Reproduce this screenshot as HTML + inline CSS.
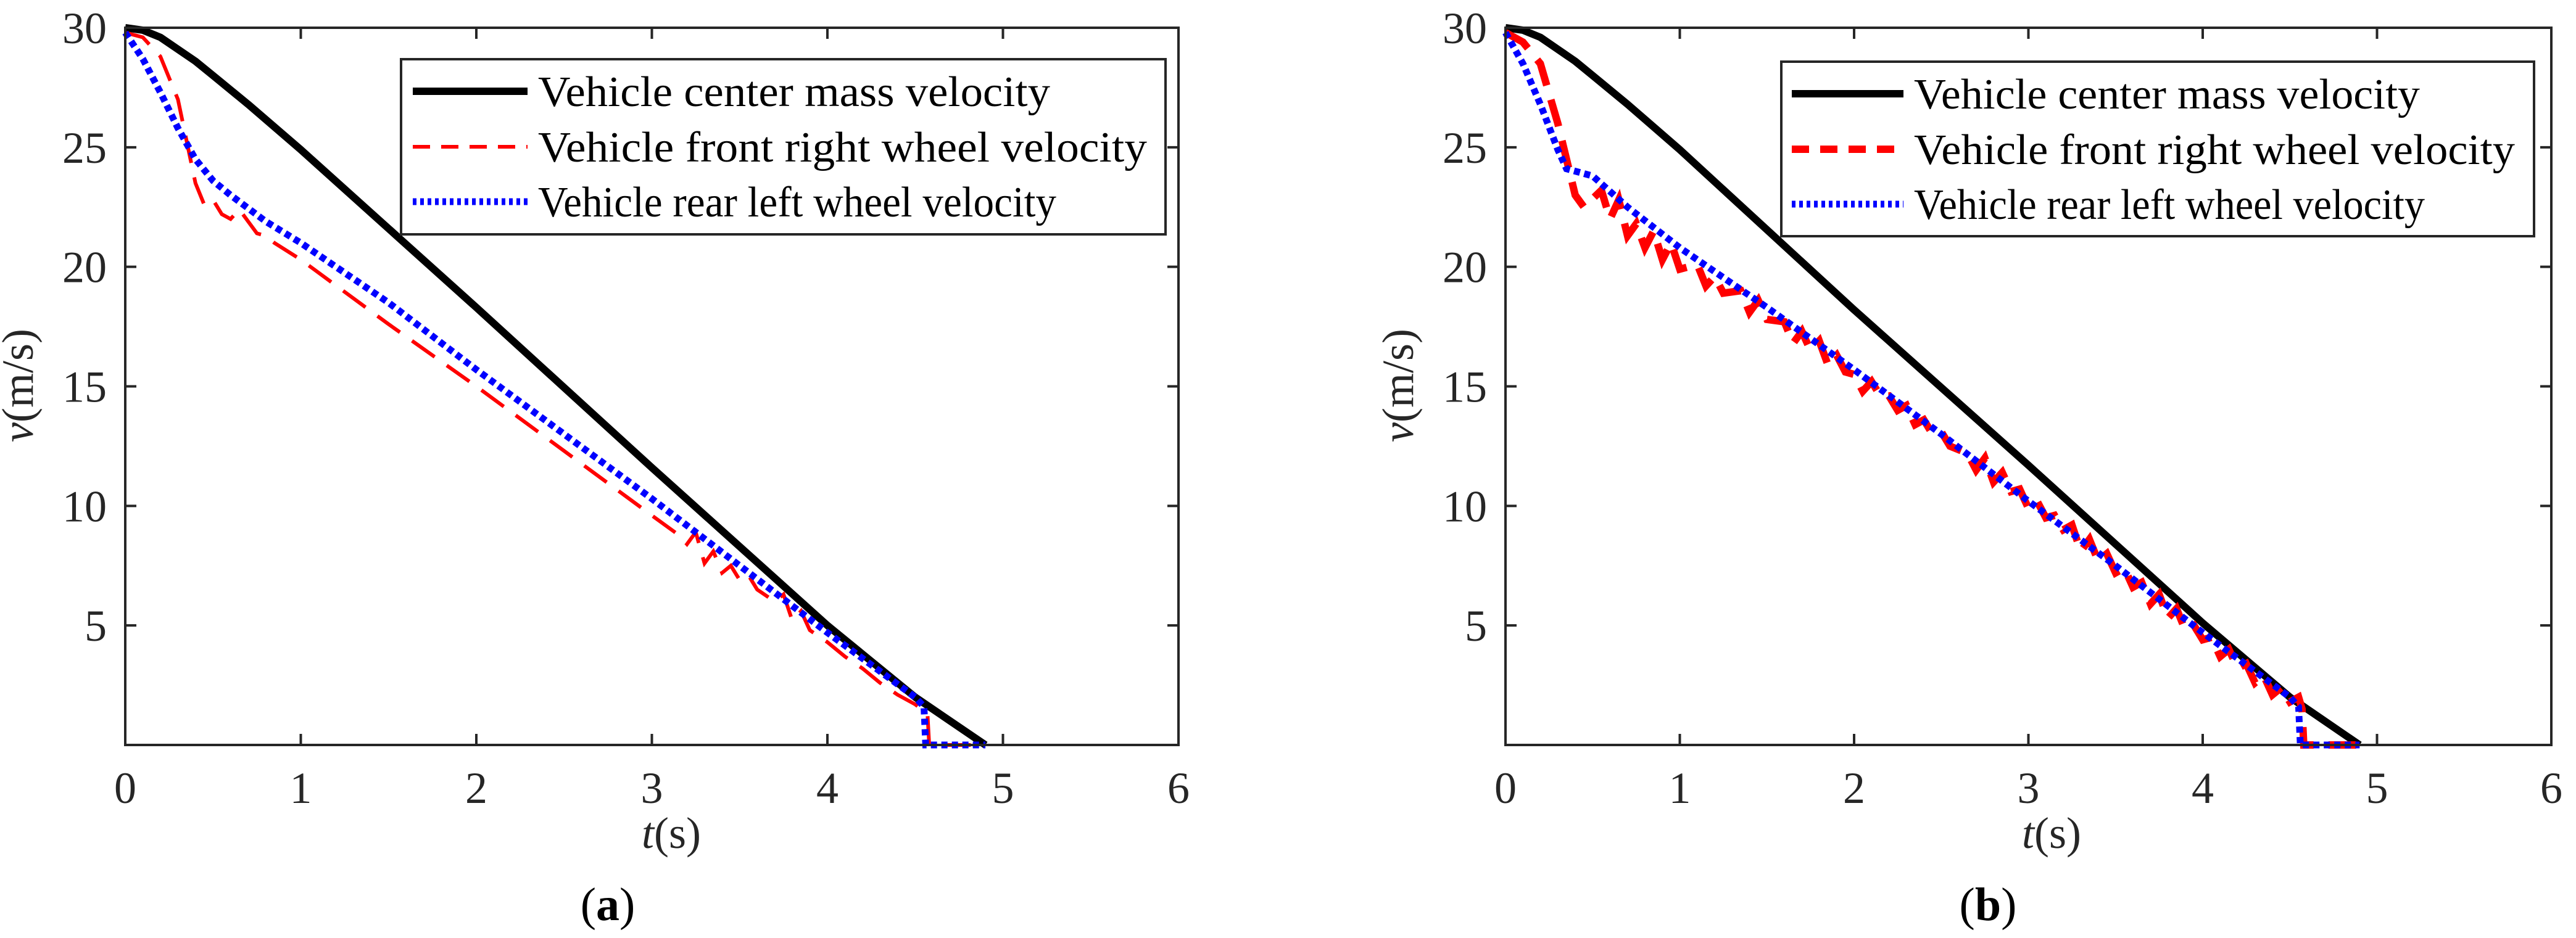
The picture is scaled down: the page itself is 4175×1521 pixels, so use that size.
<!DOCTYPE html>
<html><head><meta charset="utf-8"><style>
html,body{margin:0;padding:0;background:#fff;}
svg{display:block;}
svg text{font-family:"Liberation Serif","Times New Roman",Times,"DejaVu Serif",serif;}
</style></head><body>
<svg id="fig" width="4175" height="1521" viewBox="0 0 4175 1521" xmlns="http://www.w3.org/2000/svg"></svg>
<script>
// ---- data ----
const xTicks=[0,1,2,3,4,5,6];
const yTicks=[5,10,15,20,25,30];
const legendLabels=["Vehicle center mass velocity","Vehicle front right wheel velocity","Vehicle rear left wheel velocity"];
// panel a
const aCenterT=[0,0.1,0.2,0.3,0.4,0.5,0.7,1,2,3,4,4.5,4.9];
const aCenterV=[30,29.9,29.6,29.1,28.6,28.0,26.8,24.9,18.3,11.6,5.0,2.0,0];
const aFrontT=[0,0.1,0.2,0.3,0.4,0.45,0.5,0.55,0.6,0.65,0.7,0.75,0.8,0.85,1,1.5,2,2.5,3,3.15,3.2,3.25,3.3,3.35,3.4,3.45,3.5,3.55,3.6,3.7,3.75,3.8,3.85,3.9,4.0,4.1,4.2,4.3,4.4,4.5,4.57,4.58,4.9];
const aFrontV=[29.8,29.6,28.8,27.0,23.5,22.6,22.8,22.2,22.0,22.4,21.9,21.4,21.3,21.0,20.3,17.6,15.0,12.3,9.6,8.8,8.4,8.9,7.6,8.1,7.2,7.5,6.9,7.1,6.5,6.0,6.3,5.2,5.6,4.8,4.3,3.7,3.2,2.6,2.1,1.7,1.3,0,0];
const aRearT=[0,0.1,0.2,0.3,0.4,0.5,0.6,0.8,1,1.5,2,2.5,3,3.5,4,4.5,4.55,4.56,4.9];
const aRearV=[29.8,28.7,27.3,25.8,24.5,23.6,23.0,21.9,21.0,18.5,15.7,13.0,10.3,7.5,4.7,2.0,1.6,0,0];
// panel b
const bCenterT=[0,0.1,0.2,0.3,0.4,0.5,0.7,1,2,3,4,4.5,4.9];
const bCenterV=[30,29.9,29.6,29.1,28.6,28.0,26.8,24.9,18.2,11.7,5.1,2.0,0];
const bFrontT=[0,0.1,0.2,0.3,0.4,0.45,0.55,0.6,0.65,0.7,0.75,0.8,0.85,0.9,0.95,1.0,1.1,1.15,1.2,1.25,1.35,1.4,1.45,1.5,1.6,1.65,1.7,1.75,1.8,1.85,1.9,1.95,2.0,2.05,2.1,2.15,2.2,2.25,2.3,2.35,2.4,2.45,2.5,2.55,2.65,2.7,2.75,2.8,2.85,2.9,2.95,3.0,3.05,3.1,3.15,3.2,3.25,3.3,3.35,3.4,3.45,3.5,3.55,3.6,3.65,3.7,3.75,3.8,3.85,3.9,3.95,4.0,4.05,4.1,4.15,4.2,4.25,4.3,4.35,4.4,4.45,4.5,4.55,4.57,4.58,4.9];
const bFrontV=[29.8,29.4,28.5,26.0,23.0,22.5,23.2,22.0,22.8,21.3,21.8,20.8,21.5,20.3,21.0,19.9,20.1,19.2,19.6,18.9,19.0,18.1,18.6,17.8,17.7,16.8,17.3,16.5,16.9,15.9,16.3,15.6,15.5,14.8,15.2,14.6,14.6,14.0,14.2,13.4,13.6,13.0,13.1,12.5,12.2,11.5,12.0,11.0,11.4,10.6,10.7,9.9,10.2,9.5,9.6,9.0,9.2,8.1,8.6,7.7,8.0,7.2,7.4,6.6,6.8,5.9,6.3,5.3,5.7,4.8,5.0,4.4,4.5,3.7,4.0,3.2,3.4,2.6,2.9,2.1,2.4,1.8,2.0,1.5,0,0];
const bRearT=[0,0.1,0.2,0.3,0.35,0.5,0.7,1,1.5,2,2.5,3,3.5,4,4.5,4.55,4.56,4.9];
const bRearV=[29.8,28.5,26.8,24.9,24.1,23.8,22.5,20.8,18.3,15.7,13.0,10.2,7.5,4.7,2.0,1.6,0,0];

const NS="http://www.w3.org/2000/svg";
const svg=document.getElementById('fig');
const FF="'Liberation Serif','Times New Roman',Times,'DejaVu Serif',serif";
function mk(tag,attrs,parent){const e=document.createElementNS(NS,tag);for(const k in attrs)e.setAttribute(k,attrs[k]);if(tag==='text'){e.setAttribute('font-family',FF);e.style.fontFamily=FF;}(parent||svg).appendChild(e);return e;}

const panels=[
 {id:'a',x0:203,x1:1910,y0:45,y1:1208,center:[aCenterT,aCenterV],front:[aFrontT,aFrontV],rear:[aRearT,aRearV],frontW:6,
  leg:{l:650,r:1889,t:96,b:380,sx0:669,sx1:855,tx:872,tw:[830,987,840]},tsx:1088,cap:985},
 {id:'b',x0:2440,x1:4135,y0:45,y1:1208,center:[bCenterT,bCenterV],front:[bFrontT,bFrontV],rear:[bRearT,bRearV],frontW:12,
  leg:{l:2887,r:4107,t:100,b:383,sx0:2904,sx1:3085,tx:3102,tw:[820,974,828]},tsx:3325,cap:3222}
];
const C='#262626';
panels.forEach(p=>{
  const g=mk('g',{});
  
  
  const xs=t=>p.x0+(t-0)/(6-0)*(p.x1-p.x0);
  const ys=v=>p.y1-(v-0)/(30-0)*(p.y1-p.y0);
  const path=(T,V)=>T.map((t,i)=>(i?'L':'M')+xs(t).toFixed(1)+' '+ys(V[i]).toFixed(1)).join(' ');
  const sc=mk('path',{d:path(p.center[0],p.center[1]),fill:'none',stroke:'#000','stroke-width':12,'stroke-linejoin':'round'},g);
  
  
  const sf=mk('path',{d:path(p.front[0],p.front[1]),fill:'none',stroke:'#ff0000','stroke-width':p.frontW,'stroke-dasharray':'45 24'},g);
  
  
  const sr=mk('path',{d:path(p.rear[0],p.rear[1]),fill:'none',stroke:'#0000ff','stroke-width':11,'stroke-dasharray':'10 7'},g);
  
  
  const box=mk('rect',{x:p.x0,y:p.y0,width:p.x1-p.x0,height:p.y1-p.y0,fill:'none',stroke:C,'stroke-width':4},g);
  
  
  xTicks.forEach(t=>{
    const x=xs(t);
    mk('line',{x1:x,y1:p.y1,x2:x,y2:p.y1-18,stroke:C,'stroke-width':4},g);
    mk('line',{x1:x,y1:p.y0,x2:x,y2:p.y0+18,stroke:C,'stroke-width':4},g);
    const tl=mk('text',{x:x,y:1302,'text-anchor':'middle','font-size':72,fill:C},g);
    tl.textContent=t;
    
    
  });
  yTicks.forEach(v=>{
    const y=ys(v);
    mk('line',{x1:p.x0,y1:y,x2:p.x0+18,y2:y,stroke:C,'stroke-width':4},g);
    mk('line',{x1:p.x1,y1:y,x2:p.x1-18,y2:y,stroke:C,'stroke-width':4},g);
    const tl=mk('text',{x:p.x0-30,y:y+25,'text-anchor':'end','font-size':72,fill:C},g);
    tl.textContent=v;
    
    
  });
  const xt=mk('text',{x:p.tsx,y:1375,'text-anchor':'middle','font-size':72,fill:C},g);
  xt.innerHTML='<tspan font-style="italic">t</tspan>(s)';
  
  
  const yx=p.x0-150, yy=625;
  const yt=mk('text',{x:yx,y:yy,'text-anchor':'middle','font-size':72,fill:C,transform:`rotate(-90 ${yx} ${yy})`},g);
  yt.innerHTML='<tspan font-style="italic">v</tspan>(m/s)';
  
  
  const cp=mk('text',{x:p.cap,y:1492,'text-anchor':'middle','font-size':76,fill:'#000'},g);
  cp.innerHTML='(<tspan font-weight="bold">'+p.id+'</tspan>)';
  
  
  const L=p.leg;
  const lg=mk('g',{},g);
  
  
  mk('rect',{x:L.l,y:L.t,width:L.r-L.l,height:L.b-L.t,fill:'#fff',stroke:C,'stroke-width':4},lg);
  const rowsY=[L.t+52,L.t+142,L.t+231];
  const styles=[{s:'#000',w:12,d:'none'},{s:'#ff0000',w:p.frontW,d:'28 18'},{s:'#0000ff',w:11,d:'6 6'}];
  legendLabels.forEach((lab,i)=>{
    const e=mk('g',{},lg);
    
    
    mk('line',{x1:L.sx0,y1:rowsY[i],x2:L.sx1,y2:rowsY[i],stroke:styles[i].s,'stroke-width':styles[i].w,'stroke-dasharray':styles[i].d},e);
    const t=mk('text',{x:L.tx,y:rowsY[i]+24,'font-size':70,fill:'#000',textLength:L.tw[i],lengthAdjust:'spacingAndGlyphs'},e);
    t.textContent=lab;
  });
});
</script>
</body></html>
